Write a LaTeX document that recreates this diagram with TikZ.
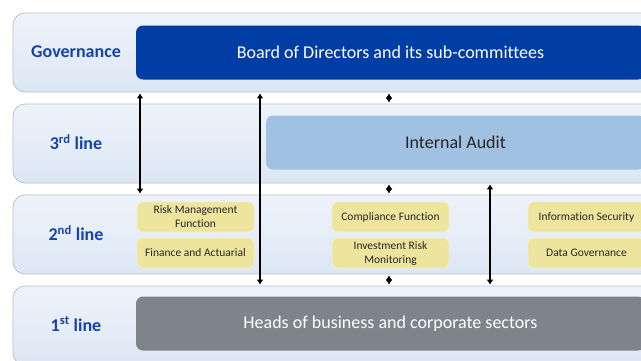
\documentclass[tikz,border=0pt]{standalone}
\usepackage{fontspec}
\setmainfont{Carlito}[Ligatures=NoCommon]
\usetikzlibrary{arrows.meta}

\definecolor{bandtop}{RGB}{238,243,250}
\definecolor{bandbot}{RGB}{220,231,244}
\definecolor{bandline}{RGB}{185,192,202}
\definecolor{boardblue}{RGB}{0,61,165}
\definecolor{auditblue}{RGB}{161,193,227}
\definecolor{headsgrey}{RGB}{125,133,139}
\definecolor{fnyellow}{RGB}{237,229,158}
\definecolor{fnline}{RGB}{246,240,192}
\definecolor{lineblue}{RGB}{22,66,172}

\tikzset{every picture/.style={line width=0.75pt}}
\tikzset{
  band/.style={draw=bandline, line width=0.8pt, top color=bandtop, bottom color=bandbot,
    rounded corners=12pt, inner sep=0pt, minimum width=647pt, minimum height=79pt},
  linelabel/.style={font=\fontsize{18}{20}\selectfont\bfseries, text=lineblue},
  bigbox/.style={rounded corners=7pt, inner sep=0pt, minimum height=54pt, font=\fontsize{18}{21}\selectfont},
  fnbox/.style={draw=fnline, fill=fnyellow, rounded corners=6pt, inner sep=0pt,
    minimum width=117pt, minimum height=30pt,
    align=center, text=black!85, font=\fontsize{11.5}{14}\selectfont},
  twoway/.style={line width=2.8pt, {Latex[length=5pt,width=7pt]}-{Latex[length=5pt,width=7pt]},
    shorten <=1pt, shorten >=1pt},
}

\begin{document}
\begin{tikzpicture}[x=1pt,y=1pt,yscale=-1,xscale=1]
        \useasboundingbox (0,0) rectangle (641,360);
        \clip (0,0) rectangle (641,360);

        %Shape: Bands
        \node [band] (gov) at (336.5,52.5) {};
        \node [band] (third) at (336.5,143.5) {};
        \node [band] (second) at (336.5,234.5) {};
        \node [band] (first) at (336.5,325.5) {};

        % Text Node
        \node [linelabel] (govlbl) at (76,52) {Governance};
        \node [linelabel] (thirdlbl) at (76,142) {3\textsuperscript{rd} line};
        \node [linelabel] (secondlbl) at (76,233) {2\textsuperscript{nd} line};
        \node [linelabel] (firstlbl) at (76,324) {1\textsuperscript{st} line};

        %Shape: Rounded Rect
        \node [bigbox, fill=boardblue, text=white, minimum width=509pt] (board) at (390.5,52.5) {Board of Directors and its sub-committees};
        \node [bigbox, fill=auditblue, text=black!85, minimum width=379pt] (audit) at (455.5,142.5) {Internal Audit};
        \node [bigbox, fill=headsgrey, text=white, minimum width=509pt] (heads) at (390.5,323.5) {Heads of business and corporate sectors};

        %Shape: Functions
        \node [fnbox] (risk) at (195.5,217) {Risk Management\\Function};
        \node [fnbox] (finance) at (195.5,253) {Finance and Actuarial};
        \node [fnbox] (compliance) at (390.5,217) {Compliance Function};
        \node [fnbox] (investment) at (390.5,253) {Investment Risk\\Monitoring};
        \node [fnbox] (infosec) at (586.5,217) {Information Security};
        \node [fnbox] (datagov) at (586.5,253) {Data Governance};

        %Straight Lines
        \coordinate (colA) at (140,0);
        \coordinate (colB) at (260,0);
        \coordinate (colC) at (389,0);
        \coordinate (colD) at (490,0);
        \draw [twoway] (gov.south -| colA) -- (second.north -| colA);
        \draw [twoway] (gov.south -| colB) -- (first.north -| colB);
        \draw [twoway] (third.south -| colD) -- (first.north -| colD);
        \draw [twoway] (gov.south -| colC) -- (third.north -| colC);
        \draw [twoway] (third.south -| colC) -- (second.north -| colC);
        \draw [twoway] (second.south -| colC) -- (first.north -| colC);

    \end{tikzpicture}
\end{document}
